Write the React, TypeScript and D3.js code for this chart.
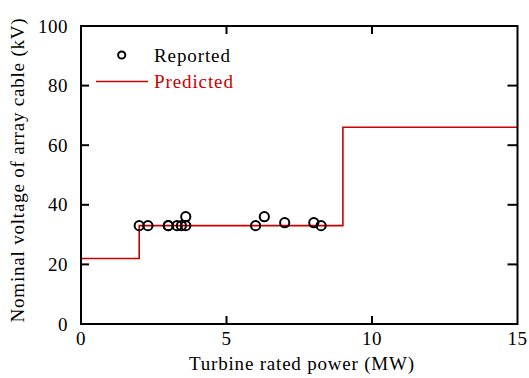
import React from "react";
import * as d3 from "d3";

const reportedPower = [2.0, 2.3, 3.0, 3.0, 3.3, 3.45, 3.6, 3.6, 6.0, 6.3, 7.0, 8.0, 8.25];
const reportedVoltage = [33, 33, 33, 33, 33, 33, 33, 36, 33, 36, 34, 34, 33];

const predictedPower = [0, 2, 9, 15];
const predictedVoltage = [22, 33, 66, 66];

const xTicks = [0, 5, 10, 15];
const yTicks = [0, 20, 40, 60, 80, 100];

const W = 529, H = 378;
const L = 81, R = 517.5, T = 26, B = 324;
const RED = "#cc0000";

export default function App() {
  const x = d3.scaleLinear().domain([0, 15]).range([L, R]);
  const y = d3.scaleLinear().domain([0, 100]).range([B, T]);
  const line = d3
    .line<number>()
    .x((_, i) => x(predictedPower[i]))
    .y((_, i) => y(predictedVoltage[i]))
    .curve(d3.curveStepAfter);
  const font = "'Liberation Serif', 'Times New Roman', serif";
  const fs = 19;
  return (
    <svg width={W} height={H} style={{ position: "absolute", left: 0, top: 0 }} fontFamily={font}>
      <rect width={W} height={H} fill="#fff" />
      <path d={line(predictedVoltage) || ""} fill="none" stroke={RED} strokeWidth={1.6} />
      {reportedPower.map((p, i) => (
        <circle key={i} cx={x(p)} cy={y(reportedVoltage[i])} r={4.6} fill="none" stroke="#000" strokeWidth={2} />
      ))}
      <rect x={L} y={T} width={R - L} height={B - T} fill="none" stroke="#000" strokeWidth={2} />
      {xTicks.slice(1, -1).map((t) => (
        <g key={"x" + t}>
          <line x1={x(t)} x2={x(t)} y1={B} y2={B - 8} stroke="#000" strokeWidth={2} />
          <line x1={x(t)} x2={x(t)} y1={T} y2={T + 8} stroke="#000" strokeWidth={2} />
        </g>
      ))}
      {xTicks.map((t) => (
        <text key={"xl" + t} x={x(t)} y={345} textAnchor="middle" fontSize={fs} fill="#000" letterSpacing={0.5}>
          {t}
        </text>
      ))}
      {yTicks.slice(1, -1).map((t) => (
        <g key={"y" + t}>
          <line x1={L} x2={L + 8} y1={y(t)} y2={y(t)} stroke="#000" strokeWidth={2} />
          <line x1={R} x2={R - 10} y1={y(t)} y2={y(t)} stroke="#000" strokeWidth={2} />
        </g>
      ))}
      {yTicks.map((t) => (
        <text key={"yl" + t} x={68} y={y(t) + 6.5} textAnchor="end" fontSize={fs} fill="#000" letterSpacing={0.5}>
          {t}
        </text>
      ))}
      <text x={302} y={370} textAnchor="middle" fontSize={fs} fill="#000" letterSpacing={0.8}>
        Turbine rated power (MW)
      </text>
      <text
        transform={`translate(24, ${(T + B) / 2 - 5}) rotate(-90)`}
        textAnchor="middle"
        fontSize={fs}
        fill="#000"
        letterSpacing={0.8}
      >
        Nominal voltage of array cable (kV)
      </text>
      <circle cx={121.7} cy={55} r={3.6} fill="none" stroke="#000" strokeWidth={2} />
      <text x={154} y={62} fontSize={fs} fill="#000" letterSpacing={0.9}>
        Reported
      </text>
      <line x1={96} x2={148} y1={81.5} y2={81.5} stroke={RED} strokeWidth={1.6} />
      <text x={154} y={88} fontSize={fs} fill={RED} letterSpacing={0.9}>
        Predicted
      </text>
    </svg>
  );
}
